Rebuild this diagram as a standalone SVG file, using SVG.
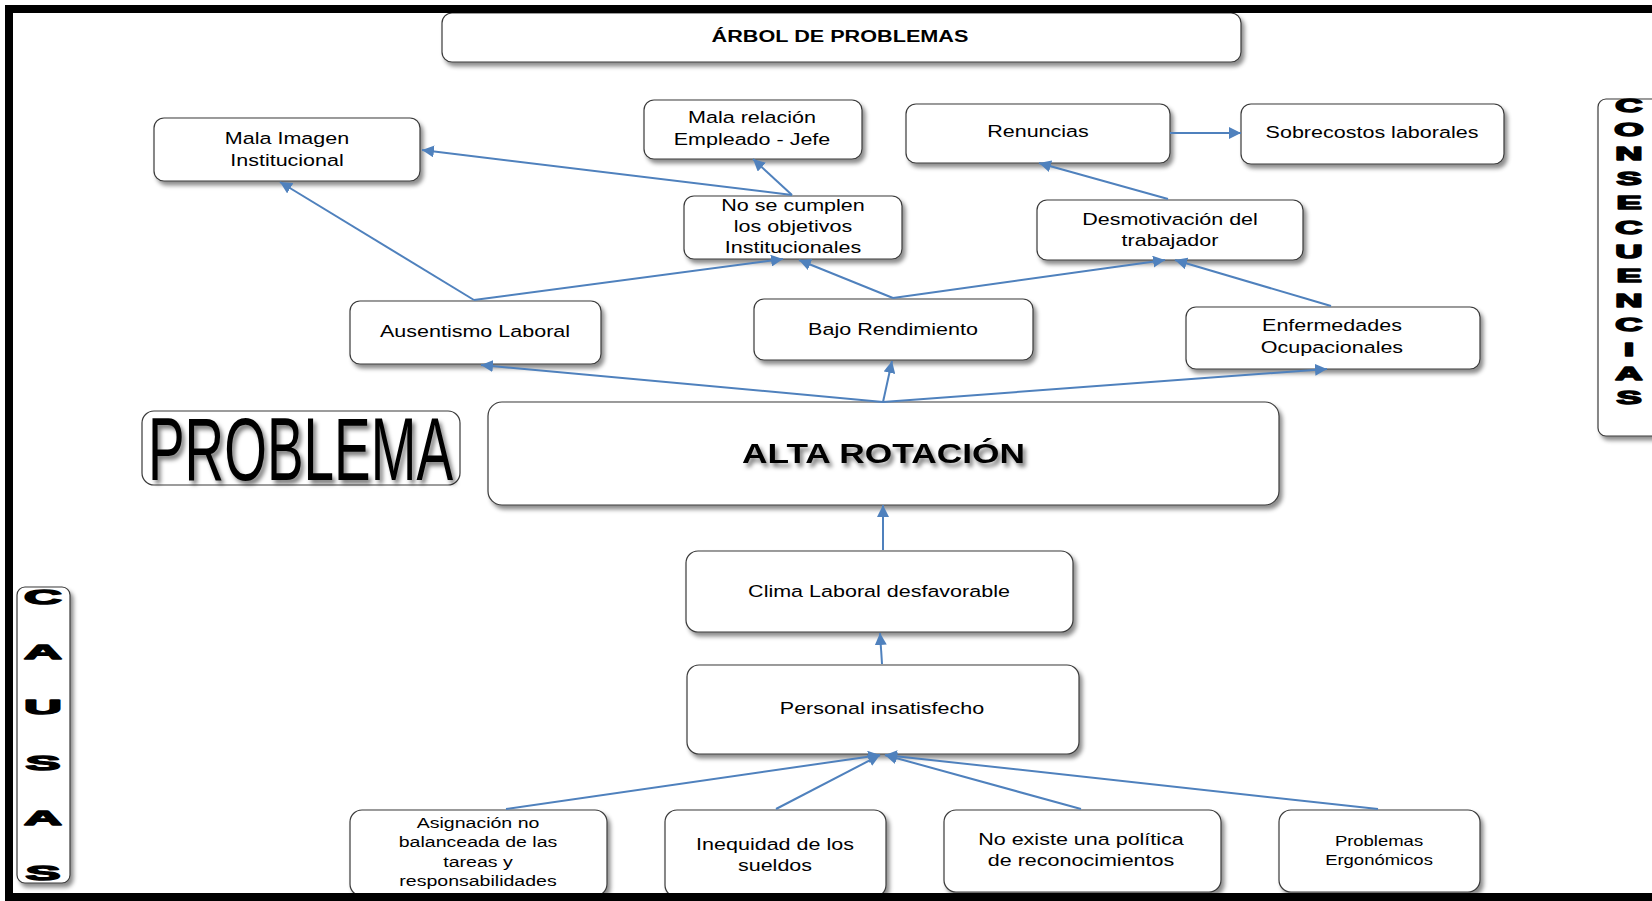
<svg xmlns="http://www.w3.org/2000/svg" width="1652" height="901" viewBox="0 0 1652 901">
<defs>
<filter id="sh" x="-10%" y="-10%" width="130%" height="140%">
<feDropShadow dx="3" dy="4" stdDeviation="2.2" flood-color="#000" flood-opacity="0.45"/>
</filter>
<filter id="tsh" x="-10%" y="-20%" width="130%" height="150%">
<feDropShadow dx="3" dy="4" stdDeviation="2" flood-color="#000" flood-opacity="0.5"/>
</filter>
<marker id="ah" markerUnits="userSpaceOnUse" markerWidth="12" markerHeight="12" viewBox="0 0 12 12" refX="12" refY="6" orient="auto">
<path d="M0,0 L12,6 L0,12 z" fill="#4F81BD"/>
</marker>
<style>
.box { fill: #fff; stroke: #3a3a3a; stroke-width: 1.2; filter: url(#sh); }
.t { font-family: "Liberation Sans", Arial, sans-serif; font-size: 16.3px; fill: #000; text-anchor: middle; }
.ts { font-size: 14.8px; }
.tp { font-size: 14px; }
.tb { font-weight: bold; }
.let { font-family: "Liberation Sans", Arial, sans-serif; font-weight: bold; fill: #000; stroke: #000; stroke-width: 1.4; stroke-linejoin: round; text-anchor: middle; }
.cn { fill: none; stroke: #4F81BD; stroke-width: 2; marker-end: url(#ah); }
</style>
</defs>
<rect x="0" y="0" width="1652" height="901" fill="#fff"/>

<g id="titulo">
<rect class="box" x="442" y="13" width="799" height="49" rx="10"/>
<text class="t tb" transform="translate(840 0) scale(1.32 1)" x="0" y="42" style="font-size:16.4px">ÁRBOL DE PROBLEMAS</text>
</g>

<g id="mala-imagen">
<rect class="box" x="154" y="118" width="266" height="63" rx="10"/>
<text class="t" transform="translate(287 0) scale(1.32 1)"><tspan x="0" y="144">Mala  Imagen</tspan><tspan x="0" y="166">Institucional</tspan></text>
</g>

<g id="mala-relacion">
<rect class="box" x="644" y="100" width="218" height="59" rx="10"/>
<text class="t" transform="translate(752 0) scale(1.32 1)"><tspan x="0" y="123">Mala relación</tspan><tspan x="0" y="145">Empleado - Jefe</tspan></text>
</g>

<g id="renuncias">
<rect class="box" x="906" y="104" width="264" height="59" rx="10"/>
<text class="t" transform="translate(1038 0) scale(1.32 1)" x="0" y="137">Renuncias</text>
</g>

<g id="sobrecostos">
<rect class="box" x="1241" y="104" width="263" height="60" rx="10"/>
<text class="t" transform="translate(1372 0) scale(1.32 1)" x="0" y="138">Sobrecostos laborales</text>
</g>

<g id="no-cumplen">
<rect class="box" x="684" y="196" width="218" height="63" rx="10"/>
<text class="t" transform="translate(793 0) scale(1.32 1)"><tspan x="0" y="211">No se cumplen</tspan><tspan x="0" y="232">los objetivos</tspan><tspan x="0" y="253">Institucionales</tspan></text>
</g>

<g id="desmotivacion">
<rect class="box" x="1037" y="200" width="266" height="60" rx="10"/>
<text class="t" transform="translate(1170 0) scale(1.32 1)"><tspan x="0" y="225">Desmotivación del</tspan><tspan x="0" y="246">trabajador</tspan></text>
</g>

<g id="ausentismo">
<rect class="box" x="350" y="301" width="251" height="63" rx="10"/>
<text class="t" transform="translate(475 0) scale(1.32 1)" x="0" y="337">Ausentismo Laboral</text>
</g>

<g id="bajo-rendimiento">
<rect class="box" x="754" y="299" width="279" height="61" rx="10"/>
<text class="t" transform="translate(893 0) scale(1.32 1)" x="0" y="335">Bajo Rendimiento</text>
</g>

<g id="enfermedades">
<rect class="box" x="1186" y="307" width="294" height="62" rx="10"/>
<text class="t" transform="translate(1332 0) scale(1.32 1)"><tspan x="0" y="331">Enfermedades</tspan><tspan x="0" y="353">Ocupacionales</tspan></text>
</g>

<g id="problema">
<rect x="142" y="411" width="318" height="74" rx="12" fill="#fff" stroke="#3a3a3a" stroke-width="1.2"/>
<text x="300.5" y="480" font-family="'Liberation Sans', Arial, sans-serif" font-size="89" text-anchor="middle" textLength="305" lengthAdjust="spacingAndGlyphs" fill="#000" filter="url(#tsh)">PROBLEMA</text>
</g>

<g id="alta-rotacion">
<rect class="box" x="488" y="402" width="791" height="103" rx="14"/>
<text x="883.5" y="463" font-family="'Liberation Sans', Arial, sans-serif" font-size="27.5" font-weight="bold" text-anchor="middle" textLength="283" lengthAdjust="spacingAndGlyphs" fill="#000" filter="url(#tsh)">ALTA ROTACIÓN</text>
</g>

<g id="clima">
<rect class="box" x="686" y="551" width="387" height="81" rx="12"/>
<text class="t" transform="translate(879 0) scale(1.32 1)" x="0" y="597">Clima Laboral desfavorable</text>
</g>

<g id="personal">
<rect class="box" x="687" y="665" width="392" height="89" rx="12"/>
<text class="t" transform="translate(882 0) scale(1.32 1)" x="0" y="714">Personal insatisfecho</text>
</g>

<g id="asignacion">
<rect class="box" x="350" y="810" width="257" height="86" rx="12"/>
<text class="t ts" transform="translate(478 0) scale(1.32 1)"><tspan x="0" y="828">Asignación no</tspan><tspan x="0" y="847.5">balanceada  de las</tspan><tspan x="0" y="867">tareas y</tspan><tspan x="0" y="886.5">responsabilidades</tspan></text>
</g>

<g id="inequidad">
<rect class="box" x="665" y="810" width="221" height="87" rx="12"/>
<text class="t" transform="translate(775 0) scale(1.32 1)"><tspan x="0" y="850">Inequidad de los</tspan><tspan x="0" y="871">sueldos</tspan></text>
</g>

<g id="no-existe">
<rect class="box" x="944" y="810" width="277" height="82" rx="12"/>
<text class="t" transform="translate(1081 0) scale(1.32 1)"><tspan x="0" y="845">No existe una  política</tspan><tspan x="0" y="866">de reconocimientos</tspan></text>
</g>

<g id="problemas-ergonomicos">
<rect class="box" x="1279" y="810" width="201" height="82" rx="12"/>
<text class="t tp" transform="translate(1379 0) scale(1.32 1)"><tspan x="0" y="846">Problemas</tspan><tspan x="0" y="865">Ergonómicos</tspan></text>
</g>

<g id="causas">
<rect class="box" x="17" y="587" width="53" height="296" rx="8"/>
<text class="let" font-size="21" transform="translate(43 0) scale(2.5 1)"><tspan x="0" y="604">C</tspan><tspan x="0" y="659.2">A</tspan><tspan x="0" y="714.4">U</tspan><tspan x="0" y="769.6">S</tspan><tspan x="0" y="824.8">A</tspan><tspan x="0" y="880">S</tspan></text>
</g>

<g id="consecuencias">
<rect class="box" x="1598" y="99" width="80" height="337" rx="8"/>
<text class="let" font-size="17.6" transform="translate(1629 0) scale(2.15 1)"><tspan x="0" y="111.7">C</tspan><tspan x="0" y="136.1">O</tspan><tspan x="0" y="160.5">N</tspan><tspan x="0" y="184.9">S</tspan><tspan x="0" y="209.3">E</tspan><tspan x="0" y="233.7">C</tspan><tspan x="0" y="258.1">U</tspan><tspan x="0" y="282.5">E</tspan><tspan x="0" y="306.9">N</tspan><tspan x="0" y="331.3">C</tspan><tspan x="0" y="355.7">I</tspan><tspan x="0" y="380.1">A</tspan><tspan x="0" y="404.5">S</tspan></text>
</g>

<g id="conectores">
<line class="cn" x1="792" y1="195" x2="422" y2="150"/>
<line class="cn" x1="792" y1="195" x2="753" y2="159"/>
<line class="cn" x1="1168" y1="199" x2="1039" y2="163"/>
<line class="cn" x1="1170" y1="133" x2="1241" y2="133"/>
<line class="cn" x1="474" y1="300" x2="280" y2="182"/>
<line class="cn" x1="474" y1="300" x2="783" y2="259"/>
<line class="cn" x1="893" y1="298" x2="799" y2="260"/>
<line class="cn" x1="893" y1="298" x2="1165" y2="260"/>
<line class="cn" x1="1331" y1="306" x2="1175" y2="260"/>
<line class="cn" x1="883" y1="402" x2="481" y2="365"/>
<line class="cn" x1="883" y1="402" x2="892" y2="361"/>
<line class="cn" x1="883" y1="402" x2="1327" y2="369"/>
<line class="cn" x1="883" y1="550" x2="883" y2="505"/>
<line class="cn" x1="882" y1="664" x2="880" y2="633"/>
<line class="cn" x1="506" y1="809" x2="880" y2="755"/>
<line class="cn" x1="776" y1="809" x2="880" y2="755"/>
<line class="cn" x1="1081" y1="809" x2="885" y2="755"/>
<line class="cn" x1="1378" y1="809" x2="885" y2="755"/>
</g>

<rect id="marco" x="9" y="9" width="1700" height="888" fill="none" stroke="#000" stroke-width="8"/>
</svg>
